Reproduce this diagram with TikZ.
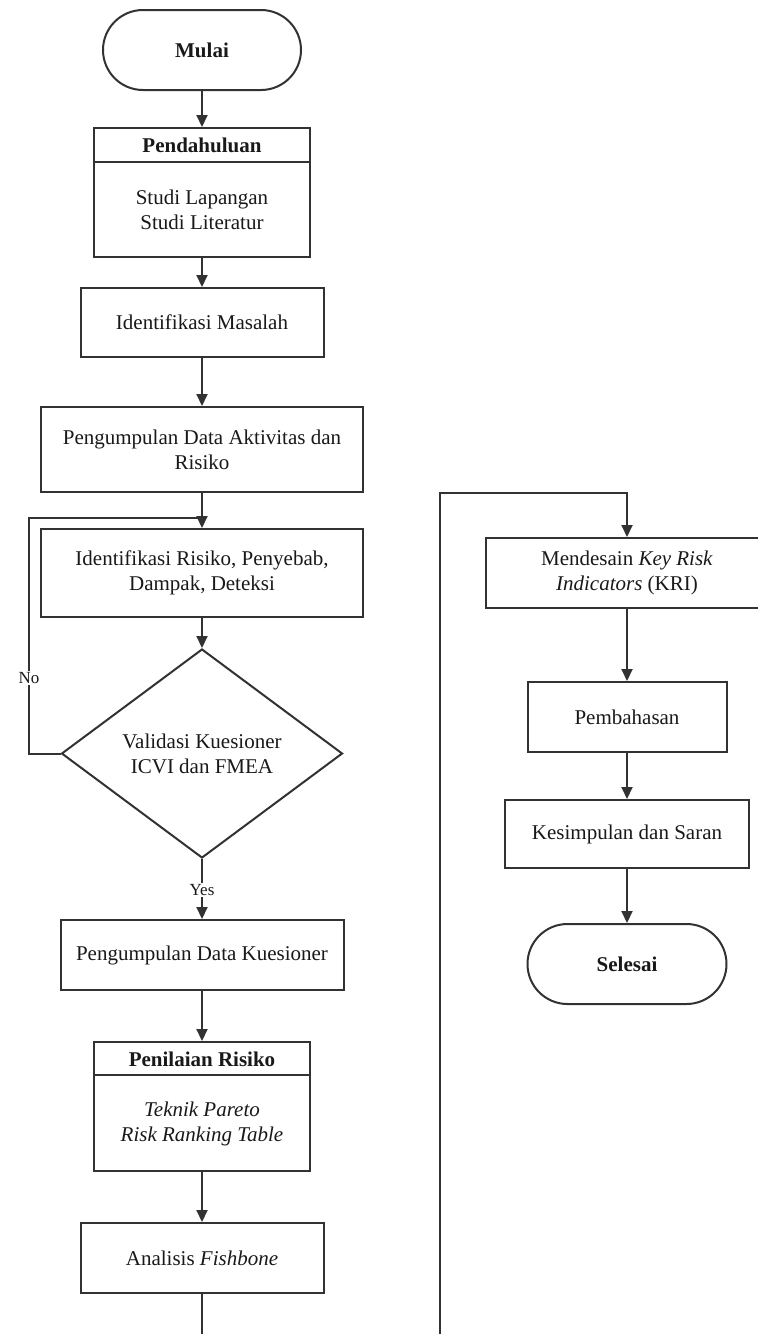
\documentclass[tikz,border=0pt]{standalone}
\usepackage{fontspec}
\setmainfont{Liberation Serif}
\usetikzlibrary{arrows.meta,shapes.geometric,shapes.misc}
\definecolor{ln}{RGB}{50,50,50}
\definecolor{txt}{RGB}{25,25,25}
\tikzset{
  box/.style={draw=ln, line width=2pt, rectangle, inner sep=0pt, align=center, text=txt},
  term/.style={box, rounded rectangle, font=\fontsize{21}{25}\selectfont\bfseries},
  decision/.style={box, diamond, aspect=1.344},
  plain/.style={inner sep=0pt, align=center, text=txt},
  head/.style={plain, font=\fontsize{21}{25}\selectfont\bfseries},
  lbl/.style={fill=white, inner sep=1.5pt, text=txt, font=\fontsize{17}{20}\selectfont},
  line/.style={draw=ln, line width=2pt},
  arrow/.style={line, -{Triangle[length=12pt,width=11pt]}}
}
\begin{document}
\begin{tikzpicture}[x=1pt, y=-1pt, font=\fontsize{21}{25}\selectfont]
  \useasboundingbox (0,0) rectangle (758,1334);
  \clip (0,0) rectangle (758,1334);
  \fill[white] (0,0) rectangle (758,1334);

  % left column
  \node[term, minimum width=198pt, minimum height=80pt] (mulai) at (202,50) {Mulai};

  \node[box, minimum width=216pt, minimum height=129pt] (pend) at (202,192.5) {};
  \draw[line] ([yshift=-35pt]pend.north west) -- ([yshift=-35pt]pend.north east);
  \node[head] (pendh) at (202,145.5) {Pendahuluan};
  \node[plain] (pendb) at (202,210) {Studi Lapangan\\Studi Literatur};

  \node[box, minimum width=243pt, minimum height=69pt] (idm) at (202,322.5) {Identifikasi Masalah};

  \node[box, minimum width=322pt, minimum height=85pt] (pdat) at (202,449.5)
    {Pengumpulan Data Aktivitas dan\\Risiko};

  \node[box, minimum width=322pt, minimum height=88pt] (irisk) at (202,573)
    {Identifikasi Risiko, Penyebab,\\Dampak, Deteksi};

  \node[decision, minimum width=281pt, minimum height=209pt] (dia) at (202,753.5)
    {Validasi Kuesioner\\ICVI dan FMEA};

  \node[box, minimum width=283pt, minimum height=70pt] (pkues) at (202,955)
    {Pengumpulan Data Kuesioner};

  \node[box, minimum width=216pt, minimum height=129pt] (pnil) at (202,1106.5) {};
  \draw[line] ([yshift=-34pt]pnil.north west) -- ([yshift=-34pt]pnil.north east);
  \node[head] (pnilh) at (202,1059) {Penilaian Risiko};
  \node[plain] (pnilb) at (202,1124) {\itshape Teknik Pareto\\\itshape Risk Ranking Table};

  \node[box, minimum width=243pt, minimum height=70pt] (fish) at (202,1258)
    {Analisis \textit{Fishbone}};

  % right column
  \node[box, minimum width=282pt, minimum height=70pt] (kri) at (627,573)
    {Mendesain \textit{Key Risk}\\\textit{Indicators} (KRI)};
  \node[box, minimum width=199pt, minimum height=70pt] (bahas) at (627,717) {Pembahasan};
  \node[box, minimum width=244pt, minimum height=68pt] (kesim) at (627,834) {Kesimpulan dan Saran};
  \node[term, minimum width=199pt, minimum height=80pt] (selesai) at (627,964) {Selesai};

  % main flow
  \draw[arrow] (mulai) -- (pend);
  \draw[arrow] (pend) -- (idm);
  \draw[arrow] (idm) -- (pdat);
  \draw[arrow] (pdat) -- (irisk);
  \draw[arrow] (irisk) -- (dia);
  \draw[arrow] (dia.south) -- node[lbl, pos=0.52] {Yes} (pkues.north);
  \draw[arrow] (pkues) -- (pnil);
  \draw[arrow] (pnil) -- (fish);

  % loop back when validation fails
  \coordinate (nolow) at (29,753.5);
  \coordinate (nohigh) at (29,518);
  \coordinate (nojoin) at (202,518);
  \draw[line] (dia.west) -- (nolow) -- node[lbl, pos=0.32] {No} (nohigh) -- (nojoin);

  % continuation to the second column
  \coordinate (downend) at (202,1345);
  \draw[line] (fish) -- (downend);
  \coordinate (upstart) at (440,1345);
  \coordinate (upturn) at (440,493);
  \draw[arrow] (upstart) -- (upturn) -| (kri.north);

  \draw[arrow] (kri) -- (bahas);
  \draw[arrow] (bahas) -- (kesim);
  \draw[arrow] (kesim) -- (selesai);
\end{tikzpicture}
\end{document}
